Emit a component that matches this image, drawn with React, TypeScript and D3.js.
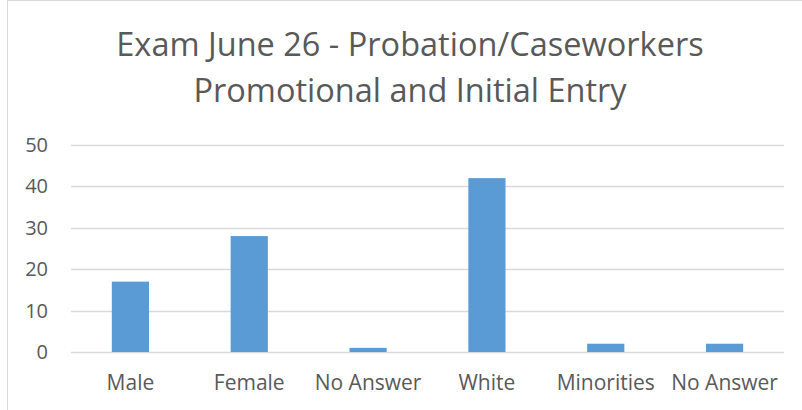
import { useEffect, useRef } from "react";
import * as d3 from "d3";

const categories = ["Male", "Female", "No Answer", "White", "Minorities", "No Answer"];
const values = [17, 28, 1, 42, 2, 2];
const yTicks = [0, 10, 20, 30, 40, 50];
const titleLines = ["Exam June 26 - Probation/Caseworkers", "Promotional and Initial Entry"];

export default function App() {
  const svgRef = useRef<SVGSVGElement>(null);

  useEffect(() => {
    if (!svgRef.current) return;
    const svg = d3.select(svgRef.current);
    svg.selectAll("*").remove();

    const width = 802;
    const height = 410;
    const margin = { top: 145, right: 18, bottom: 58, left: 71 };
    const font = "'Open Sans', sans-serif";
    const textColor = "#595959";

    // chart area border (cropped at right/bottom)
    svg
      .append("rect")
      .attr("x", 7.5)
      .attr("y", 0.5)
      .attr("width", width)
      .attr("height", height)
      .attr("fill", "#fff")
      .attr("stroke", "#d9d9d9")
      .attr("stroke-width", 1);

    // Title
    svg
      .append("g")
      .selectAll("text")
      .data(titleLines)
      .join("text")
      .attr("x", 410)
      .attr("y", (_, i) => 56 + i * 46)
      .attr("text-anchor", "middle")
      .attr("fill", textColor)
      .style("font-family", font)
      .style("font-size", "32.5px")
      .text((d) => d);

    const x = d3
      .scaleBand<number>()
      .domain(d3.range(categories.length))
      .range([margin.left, width - margin.right])
      .paddingInner(0.687)
      .paddingOuter(0.687 / 2);

    const y = d3
      .scaleLinear()
      .domain([0, 50])
      .range([height - margin.bottom, margin.top]);

    // Gridlines
    svg
      .append("g")
      .selectAll("line")
      .data(yTicks)
      .join("line")
      .attr("x1", margin.left)
      .attr("x2", width - margin.right)
      .attr("y1", (d) => Math.round(y(d)) + 0.5)
      .attr("y2", (d) => Math.round(y(d)) + 0.5)
      .attr("stroke", "#d9d9d9")
      .attr("stroke-width", 1.5);

    // Y tick labels
    svg
      .append("g")
      .selectAll("text")
      .data(yTicks)
      .join("text")
      .attr("x", 48)
      .attr("y", (d) => y(d))
      .attr("dy", "0.35em")
      .attr("text-anchor", "end")
      .attr("fill", textColor)
      .style("font-family", font)
      .style("font-size", "20px")
      .text((d) => d);

    // Bars
    svg
      .append("g")
      .selectAll("rect")
      .data(values)
      .join("rect")
      .attr("x", (_, i) => x(i)!)
      .attr("width", x.bandwidth())
      .attr("y", (d) => y(d))
      .attr("height", (d) => y(0) - y(d))
      .attr("fill", "#5b9bd5");

    // Category labels
    svg
      .append("g")
      .selectAll("text")
      .data(categories)
      .join("text")
      .attr("x", (_, i) => x(i)! + x.bandwidth() / 2)
      .attr("y", 390)
      .attr("text-anchor", "middle")
      .attr("fill", textColor)
      .style("font-family", font)
      .style("font-size", "21px")
      .text((d) => d);
  }, []);

  return (
    <div style={{ position: "fixed", left: 0, top: 0 }}>
      <svg ref={svgRef} width={802} height={410} style={{ display: "block" }}></svg>
    </div>
  );
}
